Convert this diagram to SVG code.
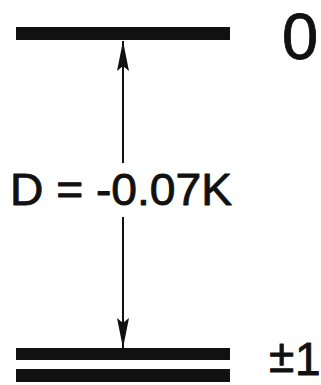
<svg xmlns="http://www.w3.org/2000/svg" width="321" height="385" viewBox="0 0 321 385">
<style>
.bar{fill:#111}
.lbl{font-family:"Liberation Sans","DejaVu Sans",sans-serif;fill:#111;stroke:#111;stroke-width:0.9;stroke-linejoin:round}
.conn{stroke:#111;stroke-width:2;fill:none}
</style>
<defs>
<marker id="ah" viewBox="0 0 30 12" refX="30" refY="6" markerWidth="30" markerHeight="12" markerUnits="userSpaceOnUse" orient="auto">
<path d="M30 6 L0 0 L5 6 L0 12 Z" fill="#111"/>
</marker>
</defs>
<rect width="321" height="385" fill="#fff"/>
<g id="level-0">
<rect class="bar" x="16" y="27" width="214" height="13"/>
<text class="lbl" x="282" y="59" font-size="65">0</text>
</g>
<g id="level-pm1">
<rect class="bar" x="16" y="348" width="214" height="12"/>
<rect class="bar" x="16" y="369" width="214" height="13"/>
<text class="lbl" x="269" y="372" font-size="46">±<tspan font-size="46" x="295" y="375">1</tspan></text>
</g>
<g id="connectors">
<line class="conn" x1="123" y1="163" x2="123" y2="41" marker-end="url(#ah)"/>
<line class="conn" x1="123" y1="217" x2="123" y2="348" marker-end="url(#ah)"/>
</g>
<g id="label-D">
<text class="lbl" x="10" y="205" font-size="44" textLength="222" lengthAdjust="spacingAndGlyphs">D = -0.07K</text>
</g>
</svg>
